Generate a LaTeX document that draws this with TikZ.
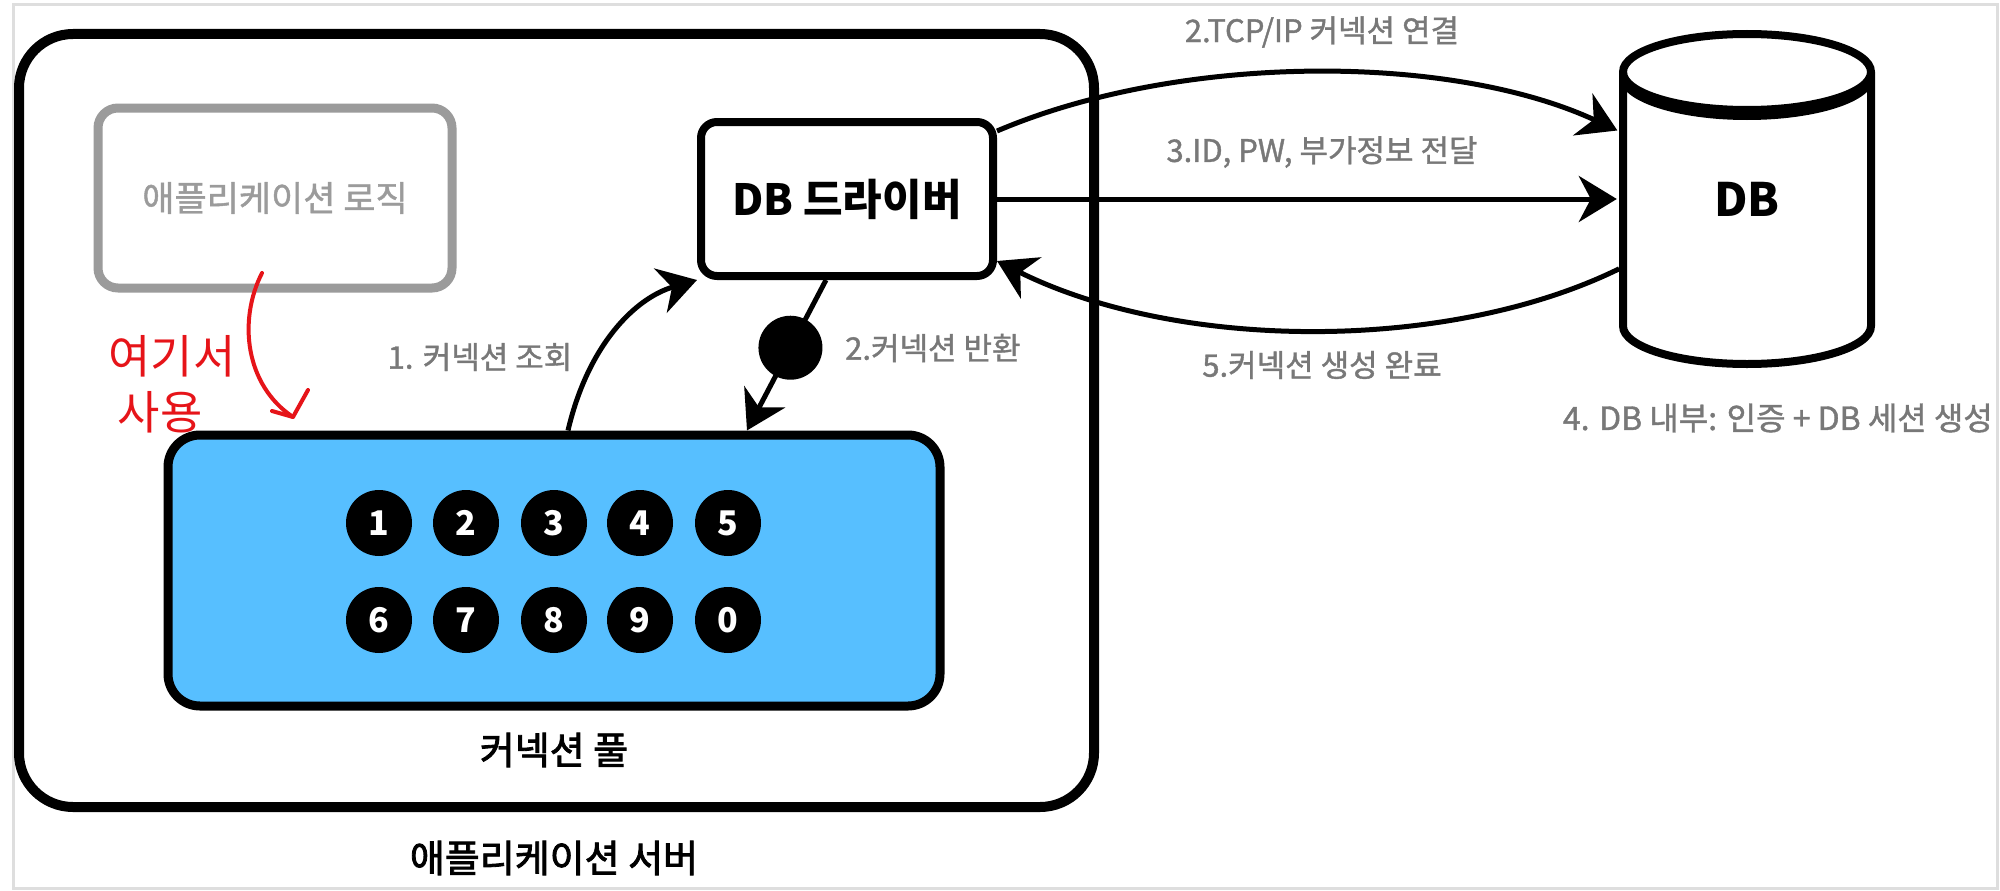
\documentclass[tikz,border=0pt]{standalone}
\usepackage{fontspec}
\setmainfont{Noto Sans CJK KR}
\newfontfamily\lblfont{Noto Sans CJK KR}[FakeBold=1.2]
\newfontfamily\medfont{Noto Sans CJK KR}[FakeBold=2.2]
\usetikzlibrary{arrows.meta,calc}
\definecolor{poolblue}{RGB}{87,191,255}
\definecolor{lblgray}{RGB}{120,120,120}
\definecolor{boxgray}{RGB}{155,155,155}
\definecolor{framegray}{RGB}{222,222,222}
\definecolor{penred}{RGB}{230,20,25}
\begin{document}
\begin{tikzpicture}[x=1pt,y=-1pt,
  lbl/.style={text=lblgray,font=\lblfont\fontsize{31}{34}\selectfont,inner sep=0pt},
  arr/.style={line width=5pt,-{Stealth[length=38pt,width=46pt,inset=12pt]}},
  num/.style={circle,fill=black,minimum size=66pt,inner sep=0pt,text=white,font=\bfseries\fontsize{34}{34}\selectfont},
  dotnode/.style={circle,fill=black,minimum size=64pt,inner sep=0pt},
  pen/.style={penred,line width=4pt,line cap=round,line join=round},
]
\useasboundingbox (0,0) rectangle (2000,891);
\fill[white] (0,0) rectangle (2000,891);
\draw[framegray,line width=3pt] (13,5) rectangle (1997,888);

% application server
\node (app) [draw,line width=10pt,rounded corners=54pt,minimum width=1075pt,minimum height=773pt,inner sep=0pt] at (556.5,420.5) {};
\node (appl) [font=\medfont\fontsize{38}{40}\selectfont,inner sep=0pt] at (554,858) {애플리케이션 서버};

% application logic
\node (logic) [draw=boxgray,line width=9pt,rounded corners=20pt,minimum width=354pt,minimum height=180pt,inner sep=0pt,text=boxgray,font=\lblfont\fontsize{35}{38}\selectfont] at (275,198) {애플리케이션 로직};

% DB driver
\node (drv) [draw,line width=8pt,rounded corners=16pt,minimum width=292pt,minimum height=154pt,inner sep=0pt,font=\bfseries\fontsize{43}{45}\selectfont] at (847,199) {DB 드라이버};

% connection pool
\node (pool) [draw,fill=poolblue,line width=9pt,rounded corners=32pt,minimum width=772pt,minimum height=271pt,inner sep=0pt] at (554,570.5) {};
\node (pooll) [font=\medfont\fontsize{38}{40}\selectfont,inner sep=0pt] at (554,750) {커넥션 풀};

\node[num] (n1) at (379,523) {1};
\node[num] (n2) at (466,523) {2};
\node[num] (n3) at (554,523) {3};
\node[num] (n4) at (640,523) {4};
\node[num] (n5) at (728,523) {5};
\node[num] (n6) at (379,620) {6};
\node[num] (n7) at (466,620) {7};
\node[num] (n8) at (554,620) {8};
\node[num] (n9) at (640,620) {9};
\node[num] (n0) at (728,620) {0};

% DB cylinder
\draw[line width=8pt,fill=white] (1623,72) -- (1623,326) arc[start angle=180,end angle=0,x radius=124,y radius=38] -- (1871,72) arc[start angle=0,end angle=-180,x radius=124,y radius=38] -- cycle;
\draw[line width=8pt] (1623,72) arc[start angle=180,end angle=0,x radius=124,y radius=38];
\draw[line width=8pt] (1623,76) arc[start angle=180,end angle=0,x radius=124,y radius=40];
\node (db) [minimum width=248pt,minimum height=329pt,inner sep=0pt,font=\bfseries\fontsize{46}{48}\selectfont] at (1747,199) {DB};

% connectors
\draw[arr] ([xshift=14pt]pool.north) .. controls (588,345) and (635,298) .. (drv.south west);
\draw[arr] ([xshift=-21pt]drv.south) -- node[dotnode,pos=0.45] (dot) {} ([xshift=193pt]pool.north);
\draw[arr,shorten >=6pt] ([yshift=68pt]drv.east) .. controls (1180,53) and (1450,53) .. ([yshift=66pt]db.west);
\draw[arr,shorten >=6pt] (drv.east) -- (db.west);
\draw[arr,shorten <=4pt] ([yshift=-68pt]db.west) .. controls (1450,352) and (1180,352) .. ([yshift=-62pt]drv.east);

% labels
\node[lbl] (l2tcp) at (1322,32) {2.TCP/IP 커넥션 연결};
\node[lbl] (l3) at (1322,152) {3.ID, PW, 부가정보 전달};
\node[lbl] (l5) at (1322,365) {5.커넥션 생성 완료};
\node[lbl,font=\lblfont\fontsize{32}{35}\selectfont,anchor=east] (l4) at (1993,418) {4. DB 내부: 인증 + DB 세션 생성};
\node[lbl] (l1) at (480,357) {1. 커넥션 조회};
\node[lbl,anchor=west] (l2ret) at (845,348) {2.커넥션 반환};

% red handwriting
\node (hw1) [text=penred,font=\fontsize{46}{46}\selectfont,inner sep=0pt] at (172,356) {여기서};
\node (hw2) [text=penred,font=\fontsize{46}{46}\selectfont,inner sep=0pt] at (160,412) {사용};
\coordinate (ra) at (262,273);
\coordinate (rb) at (293,417);
\draw[pen] (ra) .. controls (238,320) and (245,385) .. (rb);
\draw[pen] ($(rb)+(-21,-6)$) -- (rb) -- ($(rb)+(15,-27)$);
\end{tikzpicture}
\end{document}
